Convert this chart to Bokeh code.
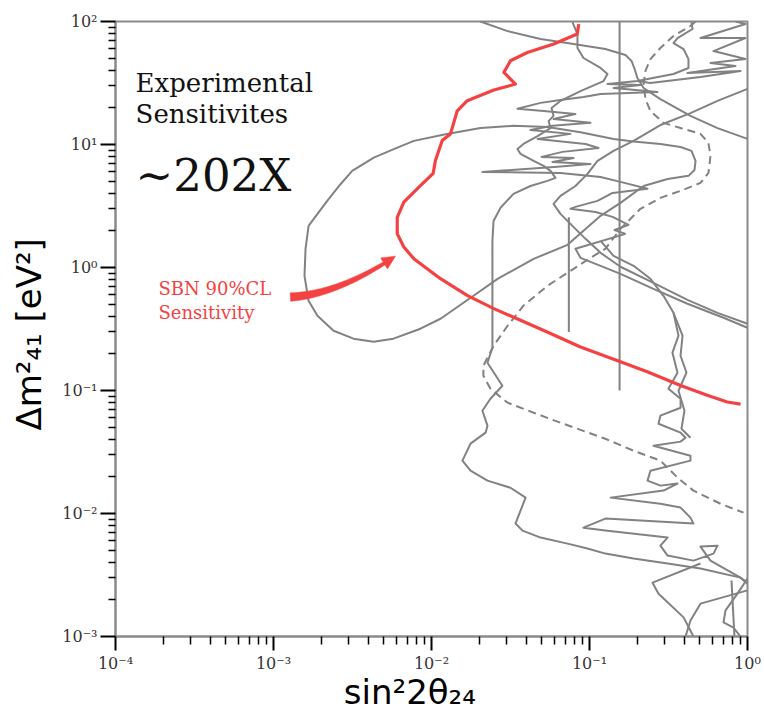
import numpy as np
from bokeh.plotting import figure
from bokeh.models import FixedTicker, CustomJSTickFormatter, Label
from bokeh.embed import file_html
from bokeh.resources import INLINE

# ---------------- axes / ticks ----------------
x_major_ticks = [1e-4, 1e-3, 1e-2, 1e-1, 1.0]
y_major_ticks = [1e-3, 1e-2, 1e-1, 1.0, 10.0, 100.0]
x_minor_ticks = [m * 10.0 ** e for e in range(-4, 0) for m in range(2, 10)]
y_minor_ticks = [m * 10.0 ** e for e in range(-3, 2) for m in range(2, 10)]

# ---------------- SBN 90% CL sensitivity (red) ----------------
sbn_s2t = [0.0855, 0.0836, 0.0594, 0.0404, 0.0316, 0.0287, 0.034, 0.0248, 0.01683, 0.01456,
           0.01318, 0.01169, 0.01059, 0.01025, 0.00851, 0.00668, 0.00607, 0.00607, 0.00668, 0.00773,
           0.0114, 0.0168, 0.0248, 0.0366, 0.054, 0.0877, 0.157, 0.232, 0.377, 0.556, 0.744, 0.904]
sbn_dm2 = [95.2, 79, 65.6, 56, 48, 38.5, 31, 27.7, 22.7, 18.8,
           12.2, 10.8, 7.4, 5.83, 4.63, 3.40, 2.56, 1.88, 1.47, 1.18,
           0.811, 0.594, 0.463, 0.372, 0.299, 0.226, 0.171, 0.142, 0.110, 0.0916, 0.0807, 0.0774]

# ---------------- other experiments (gray) ----------------
loop_s2t = [1.667e-3, 2.188e-3, 2.655e-3, 3.148e-3, 4.315e-3, 5.77e-3, 7.73e-3, 1.227e-2, 2.042e-2, 3.30e-2,
            5.42e-2, 8.77e-2, 0.142, 0.190, 0.281, 0.377, 0.442, 0.469, 0.462, 0.423,
            0.312, 0.220, 0.157, 0.1175, 9.44e-2, 7.26e-2, 4.43e-2, 2.62e-2, 1.845e-2, 1.140e-2,
            8.51e-3, 5.74e-3, 4.30e-3, 3.21e-3, 2.40e-3, 1.897e-3, 1.667e-3, 1.571e-3, 1.595e-3, 1.667e-3]
loop_dm2 = [2.181, 3.48, 4.754, 6.10, 7.82, 9.16, 10.7, 12.1, 13.6, 14.2,
            13.9, 12.6, 11.1, 10.6, 10.1, 9.55, 8.87, 7.36, 6.21, 5.56,
            5.25, 4.60, 3.35, 2.63, 2.06, 1.528, 1.175, 0.809, 0.589, 0.383,
            0.318, 0.264, 0.249, 0.264, 0.306, 0.405, 0.536, 0.855, 1.419, 2.181]

top_s2t = [2.04e-2, 3.03e-2, 4.90e-2, 7.93e-2, 0.126, 0.169, 0.1845, 0.193, 0.201, 0.220, 0.281, 0.4355, 0.646, 1.0]
top_dm2 = [100, 83.6, 72.0, 65.6, 59.7, 53.4, 47.8, 41.1, 34.7, 28.8, 23.4, 17.1, 13.6, 11.1]

diag1_s2t = [1.0, 0.646, 0.4355, 0.281, 0.190, 0.142, 0.1124, 9.71e-2, 8.15e-2, 6.55e-2,
             5.92e-2, 6.55e-2, 7.80e-2, 9.44e-2, 0.1175, 0.157, 0.254, 0.417, 0.646, 1.0]
diag1_dm2 = [28.3, 22.6, 18.0, 14.4, 10.7, 8.87, 7.36, 5.77, 4.60, 3.82,
             3.29, 2.73, 2.18, 1.71, 1.316, 1.014, 0.751, 0.546, 0.428, 0.349]

diag2_s2t = [0.169, 8.15e-2, 8.77e-2, 0.1175, 0.157, 0.254, 0.417, 0.705, 1.0]
diag2_dm2 = [1.878, 1.419, 1.198, 1.032, 0.888, 0.671, 0.507, 0.390, 0.324]

zig_s2t = [0.1175, 0.142, 0.190, 0.243, 0.294, 0.340, 0.366, 0.335, 0.3605, 0.316,
           0.377, 0.377, 0.281, 0.2735, 0.377, 0.4055, 0.377, 0.254, 0.4355, 0.4355,
           0.243, 0.233, 0.281, 0.3605, 0.294, 0.136, 0.281, 0.377, 0.4355, 0.455,
           0.126, 9.16e-2, 0.126, 0.312, 0.281, 0.312, 0.455, 0.609, 0.646, 0.504,
           0.583, 0.903, 1.0]
zig_dm2 = [1.647, 1.245, 1.032, 0.809, 0.589, 0.428, 0.279, 0.203, 0.1395, 0.1034,
           0.0857, 0.0724, 0.0624, 0.0537, 0.0454, 0.0413, 0.0384, 0.0356, 0.0295, 0.0269,
           0.0223, 0.0185, 0.01685, 0.0175, 0.01535, 0.01346, 0.0120, 0.01117, 0.00926, 0.00828,
           0.00909, 0.00767, 0.00726, 0.00637, 0.00548, 0.00455, 0.00414, 0.00472, 0.00548, 0.00538,
           0.00414, 0.00301, 0.00269]

zig2_s2t = [0.340, 0.388, 0.377, 0.411, 0.366, 0.399, 0.382, 0.4355]
zig2_dm2 = [0.428, 0.279, 0.1917, 0.1395, 0.0995, 0.0685, 0.0489, 0.0413]

left_s2t = [7.80e-2, 8.39e-2, 8.39e-2, 9.16e-2, 0.1175, 0.130, 0.1227, 8.77e-2, 6.55e-2, 5.75e-2,
            5.92e-2, 5.51e-2, 5.66e-2, 4.69e-2, 3.82e-2, 3.50e-2, 3.66e-2, 4.43e-2, 5.12e-2, 5.66e-2,
            6.09e-2, 5.42e-2, 4.23e-2, 3.30e-2, 2.73e-2, 2.47e-2, 2.43e-2, 2.43e-2, 2.43e-2, 2.43e-2,
            2.26e-2, 2.81e-2, 2.36e-2, 2.10e-2, 2.26e-2, 2.20e-2, 1.766e-2, 1.57e-2, 1.766e-2, 2.26e-2,
            3.16e-2, 3.94e-2, 3.40e-2, 3.77e-2, 4.90e-2, 7.26e-2, 9.71e-2, 0.126, 0.190, 0.312,
            0.504, 0.903, 1.0]
left_dm2 = [99, 79.1, 60.9, 50.5, 41.9, 37.4, 32.8, 27.2, 22.6, 19.8,
            17.1, 15.5, 13.6, 11.7, 10.1, 9.2, 8.38, 7.36, 6.70, 6.10,
            5.35, 5.06, 4.60, 3.97, 3.05, 2.39, 1.647, 0.780, 0.369, 0.2226,
            0.168, 0.1094, 0.0857, 0.0685, 0.0518, 0.0454, 0.0370, 0.0269, 0.0223, 0.0185,
            0.0162, 0.01346, 0.00828, 0.00726, 0.00637, 0.00569, 0.00519, 0.00472, 0.0043, 0.00392,
            0.00357, 0.00301, 0.00274]

spiky_s2t = [0.442, 0.449, 0.3605, 0.340, 0.394, 0.423, 0.423, 0.340, 0.201, 0.130,
             0.210, 0.142, 0.269, 0.1175, 9.16e-2, 6.55e-2, 4.90e-2, 3.50e-2, 5.12e-2, 8.15e-2,
             5.92e-2, 0.1014, 5.83e-2, 4.23e-2, 7.58e-2, 4.69e-2, 9.44e-2, 0.114, 6.75e-2, 4.97e-2,
             7.93e-2, 5.83e-2, 0.1014, 6.27e-2, 2.10e-2, 6.55e-2, 0.1175, 0.157, 0.233, 0.140,
             0.1124, 8.15e-2, 7.58e-2, 0.1092, 0.140, 0.1766, 0.144, 0.169]
spiky_dm2 = [99, 86.9, 73.4, 66.8, 59.7, 49.5, 41.9, 37.4, 32.8, 31.0,
             30.5, 28.8, 26.7, 25.7, 24.3, 23.0, 21.8, 19.5, 18.7, 17.7,
             16.1, 15.0, 14.2, 13.1, 12.2, 11.1, 10.1, 9.38, 8.71, 7.93,
             7.78, 7.21, 6.95, 6.58, 5.98, 5.87, 5.45, 4.97, 4.36, 4.04,
             3.48, 3.11, 3.00, 2.83, 2.58, 2.22, 2.02, 1.878]

corner_s2t = [0.840, 0.971, 0.504, 0.971, 0.609, 0.971, 0.583, 0.840, 0.417, 0.903, 0.504, 0.243, 0.201]
corner_dm2 = [100, 95.3, 73.4, 73.4, 57.5, 49.5, 46.0, 43.5, 38.1, 39.6, 35.4, 31.6, 32.8]

dash_s2t = [0.469, 0.4355, 0.340, 0.281, 0.243, 0.226, 0.220, 0.226, 0.243, 0.294,
            0.377, 0.504, 0.566, 0.583, 0.566, 0.504, 0.377, 0.281, 0.210, 0.157,
            0.126, 0.1014, 7.93e-2, 5.42e-2, 3.82e-2, 3.03e-2, 2.47e-2, 2.13e-2, 2.13e-2, 2.36e-2,
            3.03e-2, 4.43e-2, 6.55e-2, 0.126, 0.190, 0.281, 0.3605, 0.455, 0.675, 0.943]
dash_dm2 = [100, 91.9, 76.2, 60.9, 49.5, 39.6, 31.0, 23.4, 18.7, 15.0,
            13.6, 12.2, 10.3, 8.07, 5.87, 4.87, 4.20, 3.68, 3.00, 2.06,
            1.419, 1.198, 0.975, 0.710, 0.489, 0.336, 0.231, 0.159, 0.132, 0.1034,
            0.0796, 0.066, 0.0547, 0.0405, 0.0324, 0.0269, 0.0196, 0.01535, 0.0120, 0.01016]

vert1_s2t = [0.155, 0.155]
vert1_dm2 = [0.1, 100]
vert2_s2t = [0.074, 0.074]
vert2_dm2 = [0.299, 2.56]

br2_s2t = [1.0, 0.864, 0.726, 0.705, 0.815, 0.903]
br2_dm2 = [0.00296, 0.00223, 0.00163, 0.0013, 0.00118, 0.001]
br3_s2t = [0.792, 0.827]
br3_dm2 = [0.00285, 0.001]
br4_s2t = [0.504, 0.2505, 0.2735, 0.394, 0.455]
br4_dm2 = [0.00392, 0.00274, 0.00223, 0.00143, 0.001]
br5_s2t = [1.0, 0.504, 0.4355, 0.4055]
br5_dm2 = [0.00237, 0.00185, 0.00135, 0.001]

# annotation arrow (data coords of tail and tip)
arrow_tail = (1.28e-3, 0.575)
arrow_tip = (5.92e-3, 1.237)

GRAY = "#828282"
RED = "#f44242"

p = figure(width=764, height=714, x_axis_type="log", y_axis_type="log",
           x_range=(1e-4, 1.0), y_range=(1e-3, 100.0),
           output_backend="svg", toolbar_location=None,
           min_border_left=115, min_border_right=17, min_border_top=21, min_border_bottom=78)
p.grid.visible = False
p.outline_line_color = "#8a8a8a"
p.outline_line_width = 2
p.background_fill_color = "white"
p.border_fill_color = "white"

sup_js = """
const sup = {"-":"\u207b","0":"\u2070","1":"\u00b9","2":"\u00b2","3":"\u00b3","4":"\u2074",
             "5":"\u2075","6":"\u2076","7":"\u2077","8":"\u2078","9":"\u2079"};
const e = Math.round(Math.log10(tick));
return "10" + String(e).split("").map(c => sup[c]).join("");
"""

xax = p.xaxis[0]
yax = p.yaxis[0]
xax.ticker = FixedTicker(ticks=x_major_ticks, minor_ticks=x_minor_ticks)
yax.ticker = FixedTicker(ticks=y_major_ticks, minor_ticks=y_minor_ticks)
for ax in (xax, yax):
    ax.formatter = CustomJSTickFormatter(code=sup_js)
    ax.axis_line_color = "#8a8a8a"
    ax.axis_line_width = 2
    ax.major_tick_line_color = "#000000"
    ax.minor_tick_line_color = "#000000"
    ax.major_tick_in = 0
    ax.minor_tick_in = 0
    ax.major_tick_line_width = 2
    ax.minor_tick_line_width = 1.5
    ax.major_label_text_font = "DejaVu Serif"
    ax.major_label_text_font_size = "16px"
    ax.major_label_text_color = "#333333"
    ax.axis_label_text_font = "DejaVu Sans"
    ax.axis_label_text_font_style = "normal"
    ax.axis_label_text_color = "black"

xax.major_tick_out = 14
xax.minor_tick_out = 8
yax.major_tick_out = 15
yax.minor_tick_out = 7

xax.major_label_standoff = 3
yax.major_label_standoff = 3
# trailing figure spaces shift the visible label slightly left, as in the original
xax.axis_label = "sin\u00b22\u03b8\u2082\u2084\u2007\u2007"
yax.axis_label = "\u0394m\u00b2\u2084\u2081  [eV\u00b2]"
xax.axis_label_text_font_size = "34px"
yax.axis_label_text_font_size = "34px"
xax.axis_label_standoff = -4
yax.axis_label_standoff = 10

# gray curves
for xs, ys in ((loop_s2t, loop_dm2), (top_s2t, top_dm2), (diag1_s2t, diag1_dm2), (diag2_s2t, diag2_dm2),
               (zig_s2t, zig_dm2), (zig2_s2t, zig2_dm2), (left_s2t, left_dm2), (spiky_s2t, spiky_dm2),
               (corner_s2t, corner_dm2), (vert1_s2t, vert1_dm2), (vert2_s2t, vert2_dm2),
               (br2_s2t, br2_dm2), (br3_s2t, br3_dm2), (br4_s2t, br4_dm2), (br5_s2t, br5_dm2)):
    p.line(xs, ys, line_color=GRAY, line_width=2, line_join="round")
p.line(dash_s2t, dash_dm2, line_color=GRAY, line_width=2, line_dash="8 5")

# red SBN curve
p.line(sbn_s2t, sbn_dm2, line_color=RED, line_width=3.2, line_join="round")

# curved tapered arrow built in log-pixel space
PXX = 632 / 4.0
PXY = 615 / 5.0
T = np.array([np.log10(arrow_tail[0]) * PXX, np.log10(arrow_tail[1]) * PXY])
H = np.array([np.log10(arrow_tip[0]) * PXX, np.log10(arrow_tip[1]) * PXY])
d = H - T
L = np.hypot(*d)
u = d / L
n = np.array([-u[1], u[0]])
C = T + 0.40 * L * u - 0.13 * L * n
tb = 0.9
ts = np.linspace(0, tb, 40)
B = ((1 - ts) ** 2)[:, None] * T + (2 * (1 - ts) * ts)[:, None] * C + (ts ** 2)[:, None] * H
dB = (2 * (1 - ts))[:, None] * (C - T) + (2 * ts)[:, None] * (H - C)
tang = dB / np.hypot(dB[:, 0], dB[:, 1])[:, None]
nor = np.stack([-tang[:, 1], tang[:, 0]], axis=1)
w = np.linspace(8.5, 3.5, len(ts)) / 2
left_side = B + nor * w[:, None]
right_side = B - nor * w[:, None]
head_l = B[-1] + nor[-1] * 6.5
head_r = B[-1] - nor[-1] * 6.5
poly = np.vstack([left_side, [head_l], [H], [head_r], right_side[::-1]])
p.patch(10 ** (poly[:, 0] / PXX), 10 ** (poly[:, 1] / PXY), fill_color=RED, line_color=RED, line_width=0.5)

# texts
SERIF = "DejaVu Serif"
p.add_layout(Label(x=1.34e-4, y=31.6, text="Experimental", text_font=SERIF, text_font_size="26px",
                   text_baseline="alphabetic", text_color="#111111"))
p.add_layout(Label(x=1.34e-4, y=17.7, text="Sensitivites", text_font=SERIF, text_font_size="26px",
                   text_baseline="alphabetic", text_color="#111111"))
p.add_layout(Label(x=1.34e-4, y=5.56, text="~202X", text_font=SERIF, text_font_size="45px",
                   text_baseline="alphabetic", text_color="#111111"))
p.add_layout(Label(x=1.87e-4, y=0.671, text="SBN 90%CL", text_font=SERIF, text_font_size="18px",
                   text_baseline="alphabetic", text_color=RED))
p.add_layout(Label(x=1.87e-4, y=0.428, text="Sensitivity", text_font=SERIF, text_font_size="18px",
                   text_baseline="alphabetic", text_color=RED))
p.add_layout(Label(x=1.845e-5, y=6.38e-4, text="0", text_font=SERIF, text_font_size="11px",
                   text_baseline="alphabetic", text_color="#333333"))

open("out.html", "w").write(file_html(p, INLINE))
